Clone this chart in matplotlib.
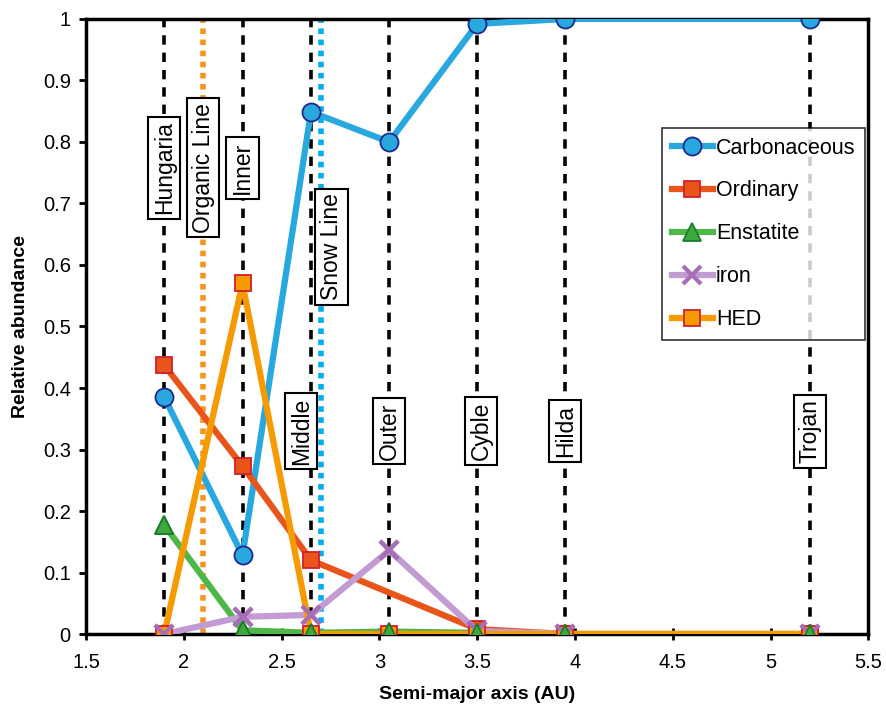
import matplotlib
matplotlib.use("Agg")
import matplotlib.pyplot as plt
import numpy as np

plt.rcParams['font.family'] = ['Liberation Sans', 'DejaVu Sans']

# asteroid belt regions (semi-major axis, AU)
x = [1.9, 2.3, 2.65, 3.05, 3.5, 3.95, 5.2]
carbonaceous = [0.385, 0.128, 0.849, 0.80, 0.992, 1.0, 1.0]
ordinary_x = [1.9, 2.3, 2.65, 3.5, 3.95, 5.2]
ordinary = [0.437, 0.273, 0.12, 0.008, 0.0, 0.0]
enstatite = [0.177, 0.006, 0.002, 0.004, 0.002, 0.0, 0.0]
iron = [0.0, 0.028, 0.031, 0.136, 0.005, 0.0, 0.0]
hed = [0.0, 0.57, 0.0, 0.0, 0.0, 0.0, 0.0]

regions = ['Hungaria', 'Inner', 'Middle', 'Outer', 'Cyble', 'Hilda', 'Trojan']
region_label_x = [1.9, 2.3, 2.60, 3.05, 3.52, 3.95, 5.2]
region_label_y = [0.758, 0.758, 0.33, 0.33, 0.33, 0.33, 0.33]
organic_line = 2.1
snow_line = 2.7

fig = plt.figure(figsize=(8.87, 7.16), dpi=100)
ax = fig.add_axes([0.097, 0.1145, 0.882, 0.859])

# region lines
for xv in x:
    ax.axvline(xv, color='black', ls=(0, (2.6, 2.2)), lw=2.6, zorder=1)
ax.axvline(organic_line, color='#F7941D', ls=(0, (1, 1)), lw=4, zorder=1)
ax.axvline(snow_line, color='#00AEEF', ls=(0, (1, 1)), lw=4, zorder=1)

lw = 4.5
ax.plot(x, carbonaceous, color='#29A8E0', lw=lw, marker='o', ms=13,
        mfc='#29A8E0', mec='#1B2A8C', mew=1.3, label='Carbonaceous', zorder=3)
ax.plot(ordinary_x, ordinary, color='#E8541A', lw=lw, marker='s', ms=12,
        mfc='#E8541A', mec='#D0202E', mew=1.3, label='Ordinary', zorder=3)
ax.plot(x, enstatite, color='#4DB848', lw=lw, marker='^', ms=13,
        mfc='#3DAA3D', mec='#1E7B2E', mew=1.3, label='Enstatite', zorder=3)
ax.plot(x, iron, color='#C39BD3', lw=lw, marker='x', ms=13,
        mec='#A66FB5', mew=3, label='iron', zorder=3)
ax.plot(x, hed, color='#F59B00', lw=lw, marker='s', ms=12,
        mfc='#F59B00', mec='#D0202E', mew=1.3, label='HED', zorder=3)
# markers that sit on top at zero
ax.plot(x, iron, ls='none', marker='x', ms=13, mec='#A66FB5', mew=3, zorder=4)
ax.plot(x, enstatite, ls='none', marker='^', ms=13,
        mfc='#3DAA3D', mec='#1E7B2E', mew=1.3, zorder=4)

box = dict(boxstyle='square,pad=0.2', fc='white', ec='black', lw=1.5)
for name, lx, ly in zip(regions, region_label_x, region_label_y):
    ax.text(lx, ly, name, rotation=90, ha='center', va='center',
            fontsize=16.5, bbox=box, zorder=5)
ax.text(organic_line, 0.758, 'Organic Line', rotation=90, ha='center',
        va='center', fontsize=16.5, bbox=box, zorder=5)
ax.text(2.755, 0.63, 'Snow Line', rotation=90, ha='center',
        va='center', fontsize=16.5, bbox=box, zorder=5)

ax.set_xlim(1.5, 5.5)
ax.set_ylim(0, 1)
ax.set_xticks(np.arange(1.5, 5.51, 0.5))
ax.set_xticklabels(['1.5', '2', '2.5', '3', '3.5', '4', '4.5', '5', '5.5'])
ax.set_yticks(np.arange(0, 1.01, 0.1))
ax.set_yticklabels(['0', '0.1', '0.2', '0.3', '0.4', '0.5', '0.6', '0.7',
                    '0.8', '0.9', '1'])
ax.tick_params(axis='x', direction='inout', length=9, width=2, labelsize=14.5, pad=9)
ax.tick_params(axis='y', direction='out', length=5, width=2, labelsize=14.5, pad=6)
for s in ax.spines.values():
    s.set_linewidth(2.5)
ax.set_xlabel('Semi-major axis (AU)', fontsize=14, fontweight='bold', labelpad=10)
ax.set_ylabel('Relative abundance', fontsize=14, fontweight='bold', labelpad=10)

leg = ax.legend(loc='upper right', bbox_to_anchor=(0.996, 0.823),
                borderaxespad=0, fontsize=15.5, frameon=True, fancybox=False,
                edgecolor='black', handlelength=1.9, handletextpad=0.15,
                labelspacing=1.02, borderpad=0.45)
leg.get_frame().set_linewidth(1.2)
leg.set_zorder(6)

fig.savefig('out.png', dpi=100)
